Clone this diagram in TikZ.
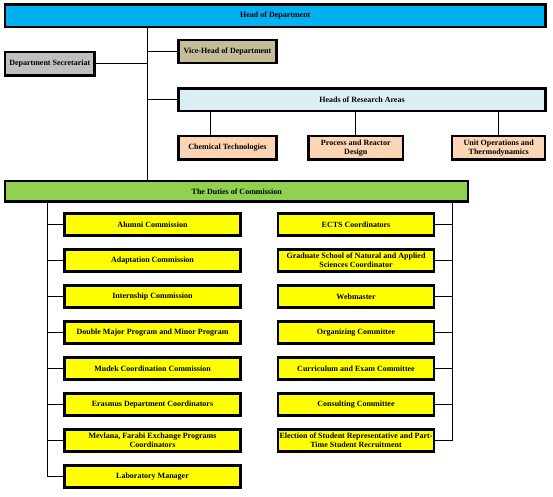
\documentclass[tikz,border=0pt]{standalone}
\usepackage{fontspec}
\setmainfont{Liberation Serif}
\usepackage{tikz}
\usetikzlibrary{positioning}

\definecolor{headblue}{HTML}{00B0F0}
\definecolor{secgray}{HTML}{BFBFBF}
\definecolor{vicetan}{HTML}{C4BD97}
\definecolor{researchblue}{HTML}{DAEEF3}
\definecolor{areapeach}{HTML}{FCD5B4}
\definecolor{dutiesgreen}{HTML}{92D050}
\definecolor{dutyyellow}{HTML}{FFFF00}

\begin{document}
\begin{tikzpicture}[
    x=1pt, y=-1pt,
    link/.style={line width=0.9pt}, % Connector style
    node distance=11.6pt and 0.6cm, % Spacing between duty boxes
    box/.style={draw, line width=2.4pt, inner sep=1pt, align=center,
        font=\fontsize{8}{9}\selectfont\bfseries},
    areabox/.style={box, fill=areapeach, minimum height=23.3pt},
    duty/.style={box, fill=dutyyellow, minimum width=176pt, minimum height=22pt},
    dutyright/.style={duty, minimum width=156.2pt}
]
    \useasboundingbox (0,0) rectangle (553,496);

    % Top of the chart
    \node (head) [box, fill=headblue, minimum width=540.3pt, minimum height=22.6pt]
        at (275.3,15.8) {Head of Department};
    \node (sec) [box, fill=secgray, minimum width=89.3pt, minimum height=23.3pt]
        at (49.8,63.8) {Department Secretariat};
    \node (vice) [box, fill=vicetan, minimum width=98pt, minimum height=22.9pt]
        at (227.5,51.7) {Vice-Head of Department};
    \node (research) [box, fill=researchblue, minimum width=367pt, minimum height=22.6pt]
        at (362,99.8) {Heads of Research Areas};

    % Research areas
    \node (chem) [areabox, minimum width=98pt] at (227.5,147.8) {Chemical Technologies};
    \node (proc) [areabox, minimum width=94.6pt] at (355.8,147.8) {Process and Reactor\\Design};
    \node (unit) [areabox, minimum width=92.9pt] at (498.7,147.8) {Unit Operations and\\Thermodynamics};

    \node (duties) [box, fill=dutiesgreen, minimum width=462.9pt, minimum height=20.3pt]
        at (236.7,191.3) {The Duties of Commission};

    % Left column of duties
    \node (l1) [duty] at (152.5,224.5)  {Alumni Commission};
    \node (l2) [duty, below= of l1] {Adaptation Commission};
    \node (l3) [duty, below= of l2] {Internship Commission};
    \node (l4) [duty, below= of l3] {Double Major Program and Minor Program};
    \node (l5) [duty, below= of l4] {Mudek Coordination Commission};
    \node (l6) [duty, below= of l5] {Erasmus Department Coordinators};
    \node (l7) [duty, below= of l6] {Mevlana, Farabi Exchange Programs\\Coordinators};
    \node (l8) [duty, below= of l7] {Laboratory Manager};

    % Right column of duties
    \node (r1) [dutyright] at (356,224.5) {ECTS Coordinators};
    \node (r2) [dutyright, below= of r1] {Graduate School of Natural and Applied\\Sciences Coordinator};
    \node (r3) [dutyright, below= of r2] {Webmaster};
    \node (r4) [dutyright, below= of r3] {Organizing Committee};
    \node (r5) [dutyright, below= of r4] {Curriculum and Exam Committee};
    \node (r6) [dutyright, below= of r5] {Consulting Committee};
    \node (r7) [dutyright, below= of r6] {Election of Student Representative and Part-\\Time Student Recruitment};

    % Bus lines
    \coordinate (trunk) at (147.3,100);
    \coordinate (lbus) at (47.3,300);
    \coordinate (rbus) at (452.3,300);

    % Main trunk
    \draw[link] (head.south -| trunk) -- (duties.north -| trunk);
    \draw[link] (sec.east) -- (sec.east -| trunk);
    \draw[link] (vice.west) -- (vice.west -| trunk);
    \draw[link] (research.west) -- (research.west -| trunk);

    % Research area links
    \draw[link] ([xshift=-17.2pt]chem.north) -- ([xshift=-17.2pt]chem.north |- research.south);
    \draw[link] (proc.north) -- (proc.north |- research.south);
    \draw[link] (unit.north) -- (unit.north |- research.south);

    % Left duty links
    \draw[link] (duties.south -| lbus) -- (l8.west -| lbus);
    \foreach \n in {l1,l2,l3,l4,l5,l6,l7,l8}
        \draw[link] (\n.west) -- (\n.west -| lbus);

    % Right duty links
    \draw[link] (duties.south -| rbus) -- (r7.east -| rbus);
    \foreach \n in {r1,r2,r3,r4,r5,r6,r7}
        \draw[link] (\n.east) -- (\n.east -| rbus);

\end{tikzpicture}
\end{document}
